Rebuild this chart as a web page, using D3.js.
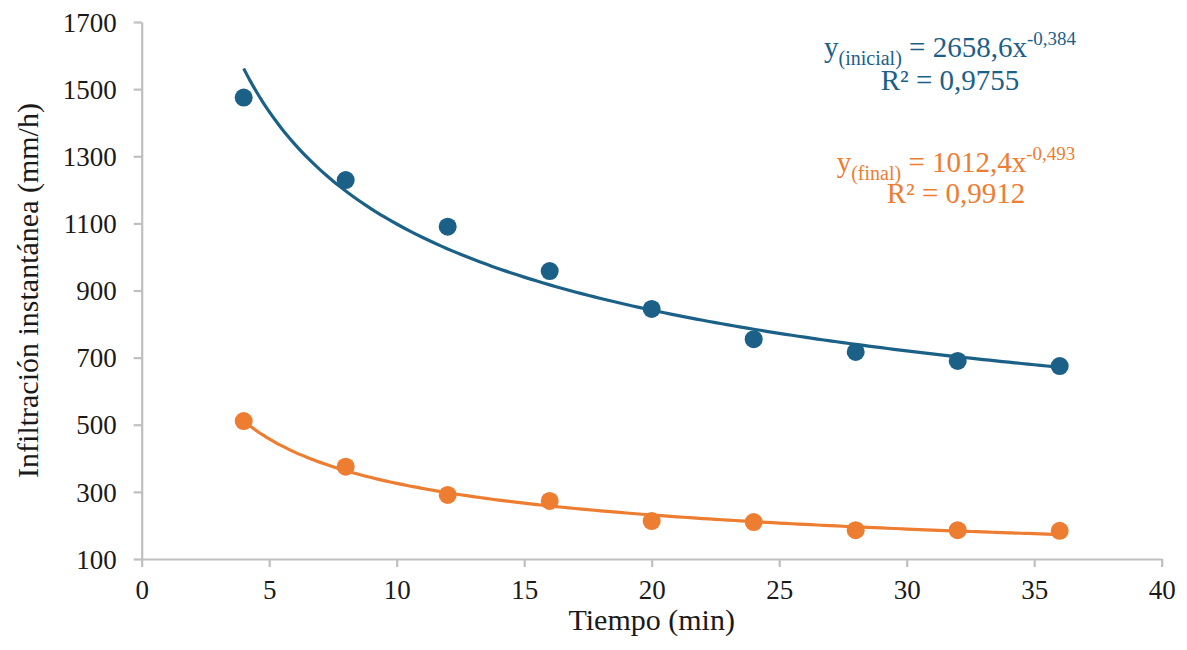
<!DOCTYPE html>
<html>
<head>
<meta charset="utf-8">
<script src="https://cdn.jsdelivr.net/npm/d3@7"></script>
<style>
  body { margin: 0; background: #fff; }
  svg { display: block; }
  text { font-family: "Liberation Serif", "Times New Roman", serif; }
</style>
</head>
<body>
<svg id="chart" width="1187" height="650"></svg>
<script>
// ---- data ----
const tiempo = [4, 8, 12, 16, 20, 24, 28, 32, 36];
const inicial = [1475, 1229, 1090, 958, 845, 755, 717, 690, 675];
const final = [511, 375, 291, 273, 213, 210, 186, 186, 184];
const xTicks = [0, 5, 10, 15, 20, 25, 30, 35, 40];
const yTicks = [100, 300, 500, 700, 900, 1100, 1300, 1500, 1700];
// power trend lines y = a * x^b, as printed on the chart
const fitInicial = { a: 2658.6, b: -0.384, r2: "0,9755", name: "inicial", aText: "2658,6", bText: "-0,384" };
const fitFinal = { a: 1012.4, b: -0.493, r2: "0,9912", name: "final", aText: "1012,4", bText: "-0,493" };

const blue = "#1b6187";
const orange = "#ed7d31";
const axisColor = "#bfbfbf";

const svg = d3.select("#chart");
const x = d3.scaleLinear().domain([0, 40]).range([141.7, 1161.7]);
const y = d3.scaleLinear().domain([100, 1700]).range([559, 22]);

// axes
const gx = svg.append("g").attr("transform", `translate(0,${y(100)})`)
  .call(d3.axisBottom(x).tickValues(xTicks).tickFormat(d3.format("d")).tickSize(8).tickSizeOuter(0).tickPadding(13));
const gy = svg.append("g").attr("transform", `translate(${x(0)},0)`)
  .call(d3.axisLeft(y).tickValues(yTicks).tickFormat(d3.format("d")).tickSize(8).tickSizeOuter(0).tickPadding(17));
[gx, gy].forEach(g => {
  g.select(".domain").attr("stroke", axisColor).attr("stroke-width", 2.2);
  g.selectAll(".tick line").attr("stroke", axisColor).attr("stroke-width", 2.2);
  g.selectAll(".tick text").attr("fill", "#1a1a1a").style("font-size", "27px");
});
gx.selectAll(".tick text").attr("dy", "0.71em");
gy.selectAll(".tick text").attr("dy", "0.34em");

// axis titles
svg.append("text").attr("x", (x(0) + x(40)) / 2).attr("y", 630)
  .attr("text-anchor", "middle").attr("fill", "#1a1a1a").style("font-size", "30px")
  .text("Tiempo (min)");
svg.append("text").attr("transform", `translate(38,${(y(100) + y(1700)) / 2}) rotate(-90)`)
  .attr("text-anchor", "middle").attr("fill", "#1a1a1a").style("font-size", "30px")
  .text("Infiltración instantánea (mm/h)");

// trend lines
function trend(fit) {
  const xs = d3.range(4, 36.001, 0.25);
  return xs.map(v => [v, fit.a * Math.pow(v, fit.b)]);
}
const line = d3.line().x(d => x(d[0])).y(d => y(d[1])).curve(d3.curveMonotoneX);
svg.append("path").datum(trend(fitInicial)).attr("d", line)
  .attr("fill", "none").attr("stroke", blue).attr("stroke-width", 3.2);
svg.append("path").datum(trend(fitFinal)).attr("d", line)
  .attr("fill", "none").attr("stroke", orange).attr("stroke-width", 3.2);

// points
svg.append("g").selectAll("circle").data(tiempo.map((t, i) => [t, inicial[i]])).join("circle")
  .attr("cx", d => x(d[0])).attr("cy", d => y(d[1])).attr("r", 9).attr("fill", blue);
svg.append("g").selectAll("circle").data(tiempo.map((t, i) => [t, final[i]])).join("circle")
  .attr("cx", d => x(d[0])).attr("cy", d => y(d[1])).attr("r", 9).attr("fill", orange);

// equations
function equation(fit, cx, y1, y2, color) {
  const t = svg.append("text").attr("x", cx).attr("y", y1).attr("text-anchor", "middle")
    .attr("fill", color).style("font-size", "29px");
  t.append("tspan").text("y");
  t.append("tspan").attr("dy", 8).style("font-size", "20px").text(`(${fit.name})`);
  t.append("tspan").attr("dy", -8).text(` = ${fit.aText}x`);
  t.append("tspan").attr("dy", -12).style("font-size", "19px").text(fit.bText);
  svg.append("text").attr("x", cx).attr("y", y2).attr("text-anchor", "middle")
    .attr("fill", color).style("font-size", "29px").text(`R² = ${fit.r2}`);
}
equation(fitInicial, 950, 57, 90, blue);
equation(fitFinal, 956, 172, 203, orange);
</script>
</body>
</html>
